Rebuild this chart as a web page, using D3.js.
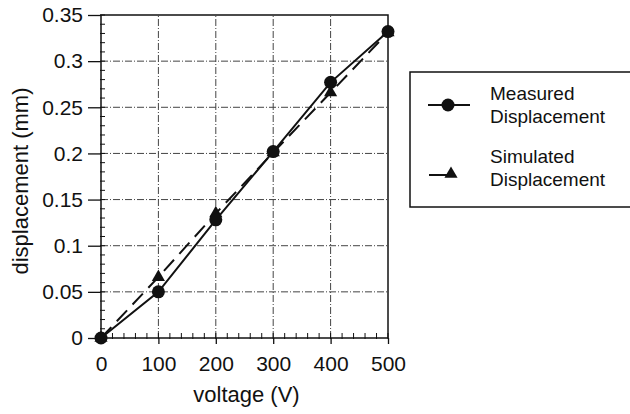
<!DOCTYPE html>
<html>
<meta charset="utf-8">
<head>
<style>
body { margin:0; padding:0; background:#fff; }
svg { display:block; }
text { font-family: "Liberation Sans", Arial, sans-serif; fill:#111; }
</style>
</head>
<body>
<svg></svg>
<script src="https://cdnjs.cloudflare.com/ajax/libs/d3/7.8.5/d3.min.js"></script>
<script>

var voltage = [0, 100, 200, 300, 400, 500];
var measured = [0, 0.050, 0.128, 0.202, 0.277, 0.332];
var simulated = [0, 0.066, 0.135, 0.201, 0.266, 0.331];
var xTicks = [0, 100, 200, 300, 400, 500];
var yTicks = [0, 0.05, 0.1, 0.15, 0.2, 0.25, 0.3, 0.35];
var legendLabels = [["Measured", "Displacement"], ["Simulated", "Displacement"]];

var width = 630, height = 414;
var svg = d3.select("svg").attr("width", width).attr("height", height);

var x = d3.scaleLinear().domain([0, 500]).range([101, 388]);
var y = d3.scaleLinear().domain([0, 0.35]).range([338, 15]);

// grid
var grid = svg.append("g").attr("stroke", "#444").attr("stroke-width", 1)
  .attr("stroke-dasharray", "7,2,1,2");
grid.selectAll(".gx").data(xTicks.slice(1, -1)).enter().append("line")
  .attr("x1", function(d){ return x(d); }).attr("x2", function(d){ return x(d); })
  .attr("y1", y(0)).attr("y2", y(0.35));
grid.selectAll(".gy").data(yTicks.slice(1, -1)).enter().append("line")
  .attr("y1", function(d){ return y(d); }).attr("y2", function(d){ return y(d); })
  .attr("x1", x(0)).attr("x2", x(500));

// minor ticks
var minorY = d3.range(0, 0.3501, 0.01);
var minorX = d3.range(0, 501, 20);
svg.append("g").selectAll("line").data(minorY).enter().append("line")
  .attr("x1", x(0) - 1).attr("x2", x(0) + 4)
  .attr("y1", function(d){ return y(d); }).attr("y2", function(d){ return y(d); })
  .attr("stroke", "#111");
svg.append("g").selectAll("line").data(minorX).enter().append("line")
  .attr("y1", y(0) + 1).attr("y2", y(0) - 5)
  .attr("x1", function(d){ return x(d); }).attr("x2", function(d){ return x(d); })
  .attr("stroke", "#111");

// frame
svg.append("rect").attr("x", x(0)).attr("y", y(0.35))
  .attr("width", x(500) - x(0)).attr("height", y(0) - y(0.35))
  .attr("fill", "none").attr("stroke", "#111").attr("stroke-width", 1.5);

// axes
var xAxis = d3.axisBottom(x).tickValues(xTicks).tickSize(6).tickPadding(8);
var yAxis = d3.axisLeft(y).tickValues(yTicks).tickSize(13).tickPadding(5)
  .tickFormat(function(d){ return d3.format("")(+d.toFixed(2)); });
var gx = svg.append("g").attr("transform", "translate(0," + y(0) + ")").call(xAxis);
var gy = svg.append("g").attr("transform", "translate(" + x(0) + ",0)").call(yAxis);
[gx, gy].forEach(function(g){
  g.select(".domain").remove();
  g.selectAll("line").attr("stroke", "#111").attr("stroke-width", 1.3);
  g.selectAll("text").attr("font-size", 21).attr("fill", "#111")
    .style("font-family", "Liberation Sans, Arial, sans-serif");
});
gx.selectAll("text").attr("dy", "0.9em");

svg.append("text").attr("x", x(250) + 2).attr("y", 402).attr("text-anchor", "middle")
  .attr("font-size", 22).text("voltage (V)");
svg.append("text").attr("transform", "translate(28," + 181 + ") rotate(-90)")
  .attr("text-anchor", "middle").attr("font-size", 22).text("displacement (mm)");

// lines
var line = d3.line().x(function(d){ return x(d[0]); }).y(function(d){ return y(d[1]); });
var measPts = voltage.map(function(v, i){ return [v, measured[i]]; });
var simPts = voltage.map(function(v, i){ return [v, simulated[i]]; });

svg.append("path").datum(simPts).attr("d", line).attr("fill", "none")
  .attr("stroke", "#111").attr("stroke-width", 2).attr("stroke-dasharray", "15,8");
svg.append("path").datum(measPts).attr("d", line).attr("fill", "none")
  .attr("stroke", "#111").attr("stroke-width", 2);

var tri = d3.symbol().type(d3.symbolTriangle).size(75);
svg.append("g").selectAll("path").data(simPts).enter().append("path")
  .attr("d", tri).attr("fill", "#111")
  .attr("transform", function(d){ return "translate(" + x(d[0]) + "," + y(d[1]) + ")"; });
svg.append("g").selectAll("circle").data(measPts).enter().append("circle")
  .attr("cx", function(d){ return x(d[0]); }).attr("cy", function(d){ return y(d[1]); })
  .attr("r", 6.5).attr("fill", "#111");

// legend
var lg = svg.append("g");
lg.append("rect").attr("x", 410).attr("y", 72).attr("width", 240).attr("height", 135)
  .attr("fill", "#fff").attr("stroke", "#111").attr("stroke-width", 1.5);
legendLabels.forEach(function(lab, i){
  var cy = 105 + i * 70;
  var base = 100 + i * 63;
  if (i === 0) {
    lg.append("line").attr("x1", 428).attr("x2", 470).attr("y1", cy).attr("y2", cy)
      .attr("stroke", "#111").attr("stroke-width", 2);
    lg.append("circle").attr("cx", 448).attr("cy", cy).attr("r", 6.5).attr("fill", "#111");
  } else {
    lg.append("line").attr("x1", 429).attr("x2", 450).attr("y1", cy).attr("y2", cy)
      .attr("stroke", "#111").attr("stroke-width", 2);
    lg.append("path").attr("d", tri).attr("fill", "#111")
      .attr("transform", "translate(451," + (cy - 1) + ")");
  }
  lg.append("text").attr("x", 490).attr("y", base).attr("font-size", 19).text(lab[0]);
  lg.append("text").attr("x", 490).attr("y", base + 23).attr("font-size", 19).text(lab[1]);
});

</script>
</body>
</html>
